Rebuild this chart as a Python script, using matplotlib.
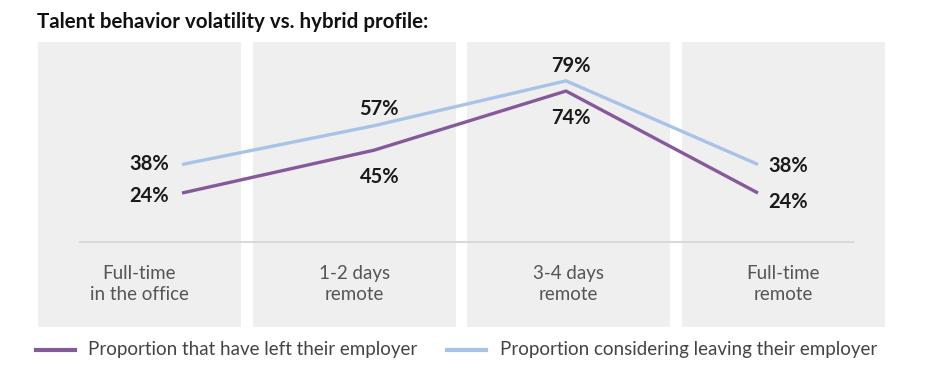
import numpy as np
import matplotlib
matplotlib.use("Agg")
import matplotlib.pyplot as plt
from matplotlib.patches import Rectangle
from matplotlib.lines import Line2D

plt.rcParams["font.family"] = ["Lato", "DejaVu Sans"]

# data
categories = ["Full-time\nin the office", "1-2 days\nremote", "3-4 days\nremote", "Full-time\nremote"]
left_employer = [24, 45, 74, 24]
considering_leaving = [38, 57, 79, 38]

PURPLE = "#86599b"
BLUE = "#a9c2e7"
PANEL = "#efefef"

W, H = 936, 387
fig = plt.figure(figsize=(W / 100, H / 100), dpi=100)


def fx(px):
    return px / W


def fy(py):
    return 1 - py / H


# grey background panels, one per category
col_left = [38, 253, 467, 682]
col_w = 203
for left in col_left:
    fig.add_artist(Rectangle((fx(left), fy(327)), col_w / W, (327 - 42) / H,
                             transform=fig.transFigure, facecolor=PANEL,
                             edgecolor="none", zorder=0))

# axes spanning the whole figure, scaled so points fall where they do in the original
ax = fig.add_axes([0, 0, 1, 1])
ax.set_facecolor("none")
x = np.arange(len(categories))
step = 192.0
x0 = 182.0
ppu = 2.04
base = 242.0
ax.set_xlim(-x0 / step, (W - x0) / step)
ax.set_ylim(-(H - base) / ppu, base / ppu)
ax.axis("off")

ax.axhline(0, xmin=fx(80), xmax=fx(853), color="#d9d9d9", lw=1.5, zorder=1)

ax.plot(x, considering_leaving, color=BLUE, lw=2.4, solid_capstyle="butt", zorder=3)
ax.plot(x, left_employer, color=PURPLE, lw=2.4, solid_capstyle="butt", zorder=3)

lbl = dict(fontsize=14.5, fontweight="bold", color="#1a1a1a",
           textcoords="offset pixels", va="center")
# placement of value labels: (dx, dy) in pixels for each series and point
blue_off = [(-13, 0), (5, 17), (5, 15), (10, -2)]
purple_off = [(-13, -3), (6, -27), (5, -27), (10, -9)]
for i in x:
    for vals, offs in ((considering_leaving, blue_off), (left_employer, purple_off)):
        dx, dy = offs[i]
        ha = "right" if i == 0 else ("left" if i == 3 else "center")
        ax.annotate(f"{vals[i]}%", (i, vals[i]), xytext=(dx, dy), ha=ha, **lbl)

# category labels, centred in their panels
for left, cat in zip(col_left, categories):
    fig.text(fx(left + col_w / 2), fy(284), cat, ha="center", va="center",
             fontsize=13.5, color="#555555", linespacing=1.3)

fig.text(fx(37), fy(22), "Talent behavior volatility vs. hybrid profile:",
         fontsize=14.8, fontweight="bold", color="#111111", va="center", ha="left")

# legend
leg_y = 350
for (x_start, x_end, tx), color, text in (
        ((36, 75, 88), PURPLE, "Proportion that have left their employer"),
        ((447, 486, 500), BLUE, "Proportion considering leaving their employer")):
    fig.add_artist(Line2D([fx(x_start), fx(x_end)], [fy(leg_y), fy(leg_y)],
                          transform=fig.transFigure, color=color, lw=3))
    fig.text(fx(tx), fy(leg_y), text, fontsize=13.5, color="#444444",
             va="center", ha="left")

fig.savefig("out.png", dpi=100)
